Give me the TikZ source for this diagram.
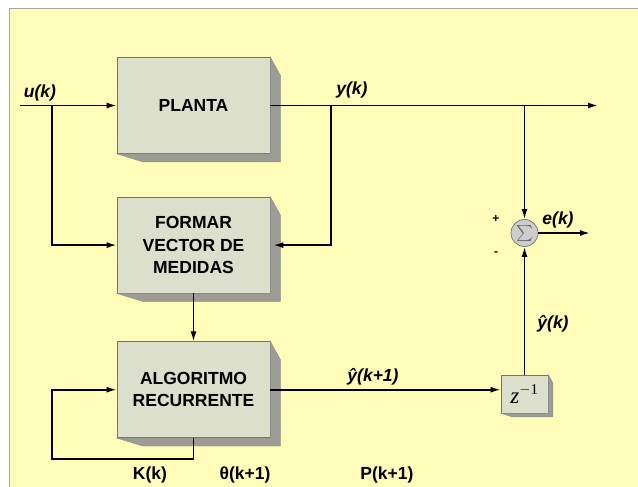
\documentclass[tikz,border=0pt]{standalone}
\usepackage{fontspec}
\setmainfont{Liberation Sans}
\newfontfamily\serifz{Liberation Serif}
\usetikzlibrary{calc,arrows.meta,positioning}
\definecolor{paper}{HTML}{FFFCBA}
\definecolor{frontface}{HTML}{DCDFCB}
\definecolor{sideface}{HTML}{9C9C94}
\definecolor{sumgrey}{HTML}{CDCDCD}
\tikzset{
  block/.style={draw=black!55,line width=0.6pt,fill=frontface,minimum width=153pt,
    minimum height=96pt,align=center,inner sep=2pt,
    font=\fontsize{17.5}{22.5}\selectfont\bfseries},
  zbox/.style={draw=black!55,line width=0.6pt,fill=frontface,minimum width=47pt,minimum height=38pt},
  sumnode/.style={draw=black!55,line width=0.7pt,fill=sumgrey,circle,minimum size=27pt,inner sep=0pt},
  signal/.style={draw,-{Latex[length=10pt,width=6pt]},line width=1.7pt},
  lbl/.style={font=\fontsize{17.5}{20}\selectfont\bfseries\itshape},
  vlbl/.style={font=\fontsize{17.5}{20}\selectfont\bfseries},
  sgn/.style={font=\fontsize{12}{12}\selectfont\bfseries}
}

\begin{document}
\begin{tikzpicture}[x=1pt,y=-1pt,node distance=43pt]
\useasboundingbox (0,0) rectangle (638,487);
\fill[paper] (9,9) rectangle (638,487);
\draw[black!35,line width=1pt] (9,487) -- (9,9) -- (638,9);

% blocks
\node[block] (planta) at (193.5,105.5) {PLANTA};
\node[block,below=43pt of planta] (formar) {FORMAR\\VECTOR DE\\MEDIDAS};
\node[block,below=48pt of formar] (algo) {ALGORITMO\\RECURRENTE};
\node[zbox] (zdel) at (524.5,394) {\fontsize{23}{23}\selectfont\serifz\itshape z\textsuperscript{\upshape\fontsize{15}{15}\selectfont\raisebox{1pt}{$-$}1}};
\node[sumnode] (sum) at (524.5,233) {\color{black!60}\scalebox{1.6}{$\sum$}};

% shaded faces
\foreach \b/\s in {planta/10,formar/10,algo/10,zdel/4.5}{
  \filldraw[fill=sideface,draw=black!45,line width=0.4pt]
    (\b.north east) -- ($(\b.north east)+(\s,1.8*\s)$) -- ($(\b.south east)+(\s,0.8*\s)$)
    -- ($(\b.south west)+(2.6*\s,0.8*\s)$) -- (\b.south west) -- (\b.south east) -- cycle;
}

% signals
\coordinate (uin) at (20,105.5);
\coordinate (ubr) at (52,105.5);
\coordinate (ybr) at (331,105.5);
\coordinate (yout) at (598,105.5);
\coordinate (eout) at (590,233);
\coordinate (fbl) at (52,459);
\draw[signal] (uin) -- (planta);
\draw[signal] (ubr) |- (formar);
\draw[signal] (planta) -- (yout);
\draw[signal] (ybr) |- ([xshift=3pt]formar.east);
\draw[signal] (sum |- planta) -- (sum);
\draw[signal] (sum) -- (eout);
\draw[signal] (formar) -- (algo);
\draw[signal] (algo) -- (algo -| zdel.west);
\draw[signal] (zdel) -- (sum);
\draw[signal] (algo.south) |- (fbl) |- (algo.west);

% labels
\node[lbl] (ulab) at (40,93) {u(k)};
\node[lbl] (ylab) at (352,90) {y(k)};
\node[lbl] (elab) at (558,220) {e(k)};
\node[sgn] (plus) at (496,219) {+};
\node[sgn] (minus) at (496,254) {-};
\node[lbl] (yhat1) at (373,377) {ŷ(k+1)};
\node[lbl] (yhat) at (553,324) {ŷ(k)};
\node[vlbl] (klab) at (150,475) {K(k)};
\node[vlbl] (thlab) at (245,475) {θ(k+1)};
\node[vlbl] (plab) at (387,475) {P(k+1)};
\end{tikzpicture}
\end{document}
